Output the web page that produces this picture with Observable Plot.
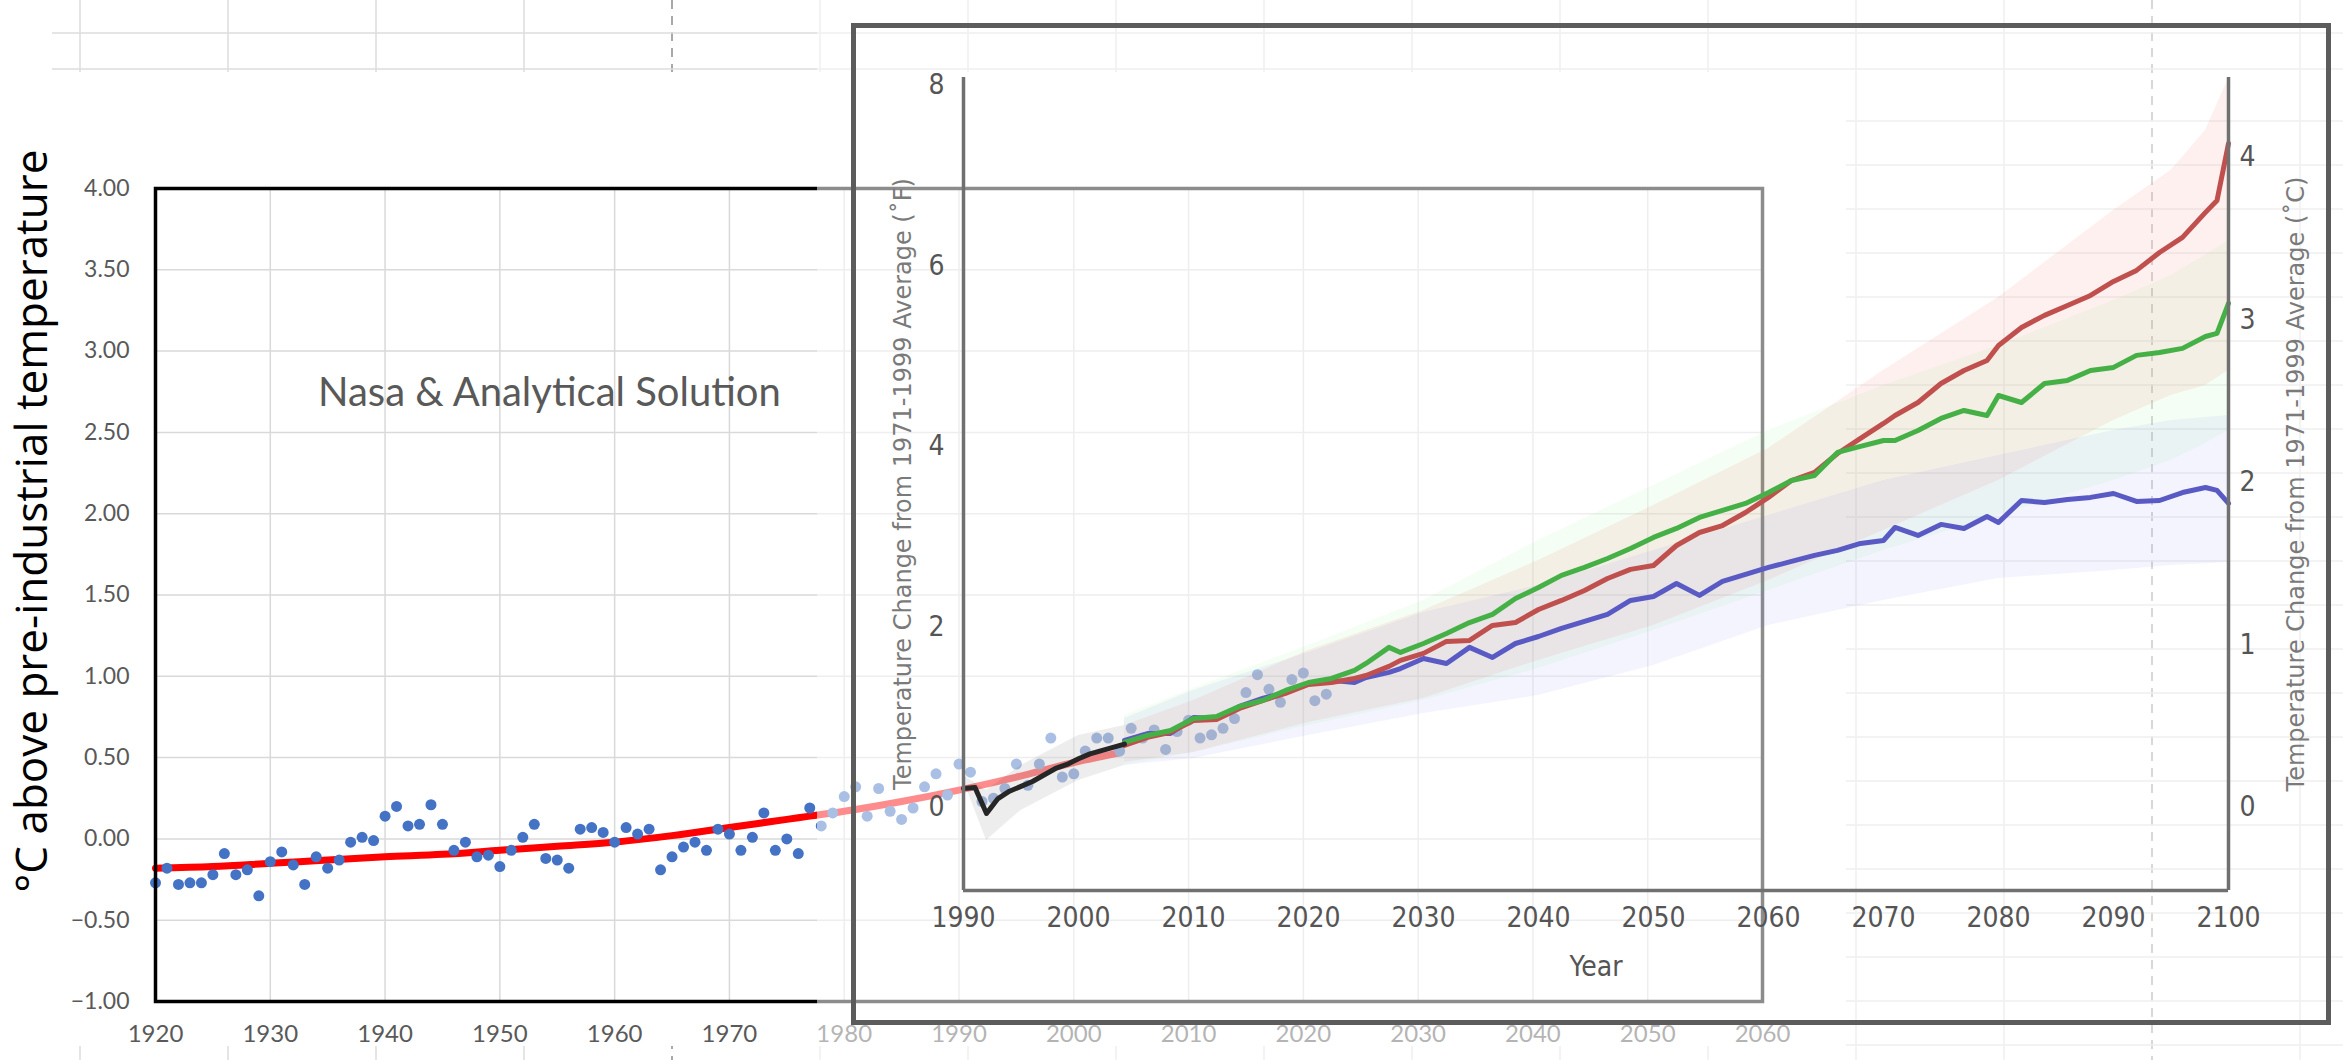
<!DOCTYPE html>
<html>
<head>
<meta charset="utf-8">
<script src="https://cdn.jsdelivr.net/npm/d3@7"></script>
<script src="https://cdn.jsdelivr.net/npm/@observablehq/plot@0.6"></script>
<style>
  html, body { margin: 0; padding: 0; background: #fff; }
  #wrap { position: relative; width: 2343px; height: 1060px; overflow: hidden; background: #fff; }
  .layer { position: absolute; left: 0; top: 0; }
  #overlay { position: absolute; left: 817px; top: 0; width: 1526px; height: 1060px; background: rgba(255,255,255,0.55); }
  #nasaBox { position: absolute; left: 851px; top: 23px; width: 1480px; height: 1002px; border: 5px solid #5c5c5c; box-sizing: border-box; }
  #title { position: absolute; left: 318px; top: 371px; font: 40px Lato, sans-serif; color: #595959; white-space: nowrap; line-height: 1; }
  #ytitle { position: absolute; left: 30px; top: 521px; transform: translate(-50%, -50%) rotate(-90deg); font: 44px "Open Sans", sans-serif; color: #000; white-space: nowrap; line-height: 1; }
</style>
</head>
<body>
<div id="wrap"></div>
<script>
// ---------------- Excel chart: GISS observations + analytical solution (°C above pre-industrial) ----------------
const obsStartYear = 1920;
const obsValues = [
  -0.27, -0.18, -0.28, -0.27, -0.27, -0.22, -0.09, -0.22, -0.19, -0.35,
  -0.14, -0.08, -0.16, -0.28, -0.11, -0.18, -0.13, -0.02, 0.01, -0.01,
  0.14, 0.20, 0.08, 0.09, 0.21, 0.09, -0.07, -0.02, -0.11, -0.10,
  -0.17, -0.07, 0.01, 0.09, -0.12, -0.13, -0.18, 0.06, 0.07, 0.04,
  -0.02, 0.07, 0.03, 0.06, -0.19, -0.11, -0.05, -0.02, -0.07, 0.06,
  0.03, -0.07, 0.01, 0.16, -0.07, 0.00, -0.09, 0.19, 0.08, 0.16,
  0.26, 0.32, 0.14, 0.31, 0.17, 0.12, 0.19, 0.32, 0.40, 0.27,
  0.46, 0.41, 0.23, 0.25, 0.31, 0.46, 0.33, 0.46, 0.62, 0.38,
  0.40, 0.54, 0.62, 0.62, 0.54, 0.68, 0.62, 0.67, 0.55, 0.66,
  0.73, 0.62, 0.64, 0.68, 0.74, 0.90, 1.01, 0.92, 0.84, 0.98,
  1.02, 0.85, 0.89
];
const trendYears  = [1920, 1925, 1930, 1935, 1940, 1945, 1950, 1955, 1960, 1965, 1970, 1975, 1977, 1980, 1985, 1990, 1995, 2000, 2004];
const trendValues = [-0.18, -0.17, -0.15, -0.13, -0.11, -0.095, -0.07, -0.045, -0.02, 0.02, 0.07, 0.12, 0.14, 0.17, 0.23, 0.30, 0.38, 0.47, 0.53];
const excelXTicks = [1920, 1930, 1940, 1950, 1960, 1970, 1980, 1990, 2000, 2010, 2020, 2030, 2040, 2050, 2060];
const excelYTicks = [-1, -0.5, 0, 0.5, 1, 1.5, 2, 2.5, 3, 3.5, 4];
const excelTitle = "Nasa & Analytical Solution";
const excelYLabel = "°C above pre-industrial temperature";

// ---------------- NASA projection image (°C change from 1971-1999 average) ----------------
const histYears  = [1990, 1991, 1992, 1993, 1994, 1995, 1996, 1997, 1998, 1999, 2000, 2001, 2002, 2003, 2004];
const histValues = [0.117, 0.123, -0.037, 0.055, 0.10, 0.13, 0.16, 0.20, 0.24, 0.265, 0.30, 0.33, 0.35, 0.37, 0.39];
const histBandYears = [1990, 1992, 1995, 2000, 2004];
const histBandLow   = [0.166, -0.203, -0.018, 0.166, 0.258];
const histBandHigh  = [0.197, 0.105, 0.258, 0.443, 0.505];

const projYears = [2004, 2006, 2008, 2010, 2012, 2014, 2016, 2018, 2020, 2022, 2024, 2025, 2027, 2028, 2030, 2032, 2034, 2036, 2038, 2040,
  2042, 2044, 2046, 2048, 2050, 2052, 2054, 2056, 2058, 2060, 2062, 2064, 2066, 2068, 2070, 2071, 2073, 2075, 2077, 2079,
  2080, 2082, 2084, 2086, 2088, 2090, 2092, 2094, 2096, 2098, 2099, 2100];
const projRed = [0.382, 0.431, 0.462, 0.535, 0.542, 0.609, 0.658, 0.702, 0.757, 0.769, 0.794, 0.812, 0.868, 0.905, 0.948, 1.022, 1.028, 1.120, 1.138, 1.218,
  1.274, 1.335, 1.409, 1.465, 1.489, 1.612, 1.692, 1.735, 1.815, 1.908, 2.012, 2.062, 2.178, 2.271, 2.363, 2.412, 2.492, 2.609, 2.689, 2.751,
  2.843, 2.954, 3.028, 3.089, 3.151, 3.237, 3.305, 3.415, 3.508, 3.662, 3.735, 4.086];
const projGreen = [0.400, 0.443, 0.474, 0.548, 0.560, 0.622, 0.658, 0.720, 0.769, 0.794, 0.843, 0.886, 0.985, 0.954, 1.009, 1.071, 1.138, 1.188, 1.286, 1.354,
  1.428, 1.477, 1.532, 1.594, 1.662, 1.717, 1.785, 1.828, 1.871, 1.938, 2.012, 2.043, 2.185, 2.222, 2.258, 2.258, 2.320, 2.394, 2.443, 2.412,
  2.535, 2.492, 2.609, 2.628, 2.689, 2.708, 2.782, 2.800, 2.825, 2.898, 2.917, 3.102];
const projBlue = [0.412, 0.455, 0.455, 0.554, 0.548, 0.622, 0.671, 0.708, 0.763, 0.782, 0.769, 0.800, 0.831, 0.855, 0.917, 0.886, 0.985, 0.923, 1.009, 1.052,
  1.102, 1.145, 1.188, 1.274, 1.298, 1.378, 1.305, 1.391, 1.434, 1.477, 1.514, 1.551, 1.582, 1.625, 1.643, 1.723, 1.674, 1.742, 1.717, 1.791,
  1.754, 1.889, 1.877, 1.895, 1.908, 1.932, 1.883, 1.889, 1.938, 1.969, 1.951, 1.871];

const bandYears   = [2004, 2010, 2020, 2030, 2040, 2050, 2060, 2070, 2080, 2090, 2095, 2098, 2100];
const redBandLo   = [0.277, 0.338, 0.523, 0.671, 0.905, 1.120, 1.397, 1.705, 2.012, 2.382, 2.535, 2.597, 2.689];
const redBandHi   = [0.505, 0.658, 0.966, 1.212, 1.520, 1.858, 2.209, 2.689, 3.138, 3.674, 3.920, 4.166, 4.486];
const greenBandLo = [0.258, 0.338, 0.505, 0.658, 0.855, 1.089, 1.335, 1.582, 1.797, 2.012, 2.135, 2.240, 2.320];
const greenBandHi = [0.566, 0.732, 0.997, 1.274, 1.643, 1.982, 2.320, 2.597, 2.843, 3.120, 3.274, 3.400, 3.489];
const blueBandLo  = [0.258, 0.302, 0.443, 0.578, 0.689, 0.874, 1.120, 1.274, 1.409, 1.458, 1.489, 1.500, 1.508];
const blueBandHi  = [0.548, 0.720, 0.954, 1.200, 1.366, 1.582, 1.797, 2.012, 2.166, 2.320, 2.382, 2.400, 2.412];

const nasaXTicks = [1990, 2000, 2010, 2020, 2030, 2040, 2050, 2060, 2070, 2080, 2090, 2100];
const nasaFTicks = [0, 2, 4, 6, 8];
const nasaCTicks = [0, 1, 2, 3, 4];
const nasaLeftLabel  = "Temperature Change from 1971-1999 Average (˚F)";
const nasaRightLabel = "Temperature Change from 1971-1999 Average (˚C)";
const nasaXLabel = "Year";

// ---------------- tables ----------------
const obs = obsValues.map((v, i) => ({year: obsStartYear + i, value: v}));
const trend = trendYears.map((y, i) => ({year: y, value: trendValues[i]}));
const hist = histYears.map((y, i) => ({year: y, value: histValues[i]}));
const histBand = histBandYears.map((y, i) => ({year: y, lo: histBandLow[i], hi: histBandHigh[i]}));
const proj = projYears.flatMap((y, i) => [
  {year: y, value: projBlue[i], s: "blue"},
  {year: y, value: projRed[i], s: "red"},
  {year: y, value: projGreen[i], s: "green"}
]);
const bands = bandYears.flatMap((y, i) => [
  {year: y, lo: redBandLo[i], hi: redBandHi[i], s: "red"},
  {year: y, lo: greenBandLo[i], hi: greenBandHi[i], s: "green"},
  {year: y, lo: blueBandLo[i], hi: blueBandHi[i], s: "blue"}
]);

const W = 2343, H = 1060;
const wrap = document.getElementById("wrap");

// ---------------- spreadsheet background ----------------
const bg = d3.create("svg").attr("width", W).attr("height", H).attr("class", "layer");
const colX = d3.range(80, W, 148);
bg.selectAll("line.c").data(colX).join("line")
  .attr("x1", d => d).attr("x2", d => d).attr("y1", 0).attr("y2", H)
  .attr("stroke", d => (d === 672 || d === 2152) ? "#8c8c8c" : "#dcdcdc")
  .attr("stroke-width", 1.5)
  .attr("stroke-dasharray", d => (d === 672 || d === 2152) ? "9,7" : null);
const rowY = [33, 69].concat(d3.range(121, H, 44));
bg.selectAll("line.r").data(rowY).join("line")
  .attr("x1", 52).attr("x2", W).attr("y1", d => d).attr("y2", d => d)
  .attr("stroke", "#dcdcdc").attr("stroke-width", 1.5);
bg.append("rect").attr("x", 52).attr("y", 72).attr("width", 1846 - 52).attr("height", 1046 - 72).attr("fill", "#fff");
wrap.appendChild(bg.node());

// ---------------- Excel chart ----------------
const excel = Plot.plot({
  width: W, height: H,
  marginLeft: 155, marginRight: W - 1762, marginTop: 188, marginBottom: H - 1001,
  style: {background: "transparent", fontFamily: "Lato, sans-serif"},
  x: {domain: [1920, 2060]},
  y: {domain: [-1, 4]},
  marks: [
    Plot.gridX(excelXTicks, {stroke: "#d9d9d9", strokeOpacity: 1, strokeWidth: 1.5}),
    Plot.gridY(excelYTicks, {stroke: "#d9d9d9", strokeOpacity: 1, strokeWidth: 1.5}),
    Plot.line(trend, {x: "year", y: "value", stroke: "#ff0000", strokeWidth: 7, curve: "monotone-x"}),
    Plot.dot(obs, {x: "year", y: "value", r: 5.5, fill: "#4472c4", stroke: "none"}),
    Plot.frame({stroke: "#000", strokeWidth: 3.5}),
    Plot.axisY(excelYTicks, {tickSize: 0, tickPadding: 26, tickFormat: d3.format(".2f"), fontSize: 23, fill: "#595959", label: null}),
    Plot.axisX(excelXTicks, {tickSize: 0, tickPadding: 23, tickFormat: d => `${d}`, fontSize: 24, fill: "#595959", label: null})
  ]
});
excel.classList.add("layer");
wrap.appendChild(excel);

const title = document.createElement("div");
title.id = "title"; title.textContent = excelTitle;
wrap.appendChild(title);
const ytitle = document.createElement("div");
ytitle.id = "ytitle"; ytitle.textContent = excelYLabel;
wrap.appendChild(ytitle);

// ---------------- NASA image overlay ----------------
const overlay = document.createElement("div"); overlay.id = "overlay"; wrap.appendChild(overlay);
const box = document.createElement("div"); box.id = "nasaBox"; wrap.appendChild(box);

const yMinC = -0.511, yMaxC = 4.492;
const lineColor = {red: "#c0504d", green: "#45b046", blue: "#5a5ac4"};
const bandColor = {red: "#ff4040", green: "#40f040", blue: "#6060ff"};
const bandOpacity = {red: 0.08, green: 0.06, blue: 0.07};
const nasaFont = "'Liberation Sans Narrow', 'DejaVu Sans Condensed', sans-serif";
const nasa = Plot.plot({
  width: W, height: H,
  marginLeft: 963, marginRight: W - 2228, marginTop: 77, marginBottom: H - 890,
  style: {background: "transparent", fontFamily: nasaFont},
  x: {domain: [1990, 2100]},
  y: {domain: [yMinC, yMaxC]},
  marks: [
    Plot.areaY(bands, {x: "year", y1: "lo", y2: "hi", z: "s", fill: d => bandColor[d.s], fillOpacity: d => bandOpacity[d.s]}),
    Plot.areaY(histBand, {x: "year", y1: "lo", y2: "hi", fill: "#000", fillOpacity: 0.07}),
    Plot.line(proj, {x: "year", y: "value", z: "s", stroke: d => lineColor[d.s], strokeWidth: 5, strokeLinejoin: "round"}),
    Plot.line(hist, {x: "year", y: "value", stroke: "#262626", strokeWidth: 5}),
    Plot.ruleX([1990, 2100], {stroke: "#707070", strokeWidth: 3.5}),
    Plot.ruleY([yMinC], {stroke: "#707070", strokeWidth: 3.5}),
    Plot.axisY(nasaFTicks.map(f => f / 1.8), {anchor: "left", tickSize: 0, tickPadding: 19, tickFormat: d => `${Math.round(d * 1.8)}`, fontSize: 28, fill: "#555", label: null}),
    Plot.axisY([], {anchor: "left", label: nasaLeftLabel, labelAnchor: "center", labelOffset: 70, labelArrow: "none", fontSize: 24, fill: "#7a7a7a", fontFamily: "'DejaVu Sans', sans-serif"}),
    Plot.axisY(nasaCTicks, {anchor: "right", tickSize: 0, tickPadding: 11, tickFormat: d => `${d}`, fontSize: 28, fill: "#555", label: null}),
    Plot.axisY([], {anchor: "right", label: nasaRightLabel, labelAnchor: "center", labelOffset: 75, labelArrow: "none", fontSize: 24, fill: "#7a7a7a", fontFamily: "'DejaVu Sans', sans-serif"}),
    Plot.axisX(nasaXTicks, {tickSize: 0, tickPadding: 17, tickFormat: d => `${d}`, fontSize: 28, fill: "#555", label: nasaXLabel, labelAnchor: "center", labelOffset: 85, labelArrow: "none"})
  ]
});
nasa.classList.add("layer");
wrap.appendChild(nasa);
</script>
</body>
</html>
